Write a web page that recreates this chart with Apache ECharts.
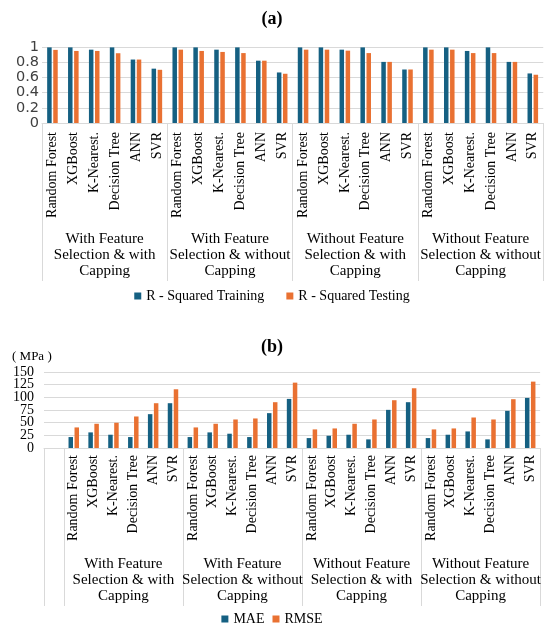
<!DOCTYPE html>
<html>
<head>
<meta charset="utf-8">
<script src="https://cdn.jsdelivr.net/npm/echarts@6/dist/echarts.min.js"></script>
<style>
html, body { margin: 0; padding: 0; background: #fff; }
#main { width: 544px; height: 629px; }
</style>
</head>
<body>
<div id="main"></div>
<script>
const models = ["Random Forest", "XGBoost", "K-Nearest Neighbors", "Decision Tree", "ANN", "SVR"];
const groups = [
	"With Feature\nSelection & with\nCapping",
	"With Feature\nSelection & without\nCapping",
	"Without Feature\nSelection & with\nCapping",
	"Without Feature\nSelection & without\nCapping",
];

// (a) R-squared, 6 models x 4 groups
const r2Training = [0.995, 0.995, 0.965, 0.995, 0.835, 0.715, 0.995, 0.995, 0.965, 0.995, 0.82, 0.665, 0.995, 0.995, 0.965, 0.995, 0.804, 0.704, 0.995, 0.995, 0.948, 0.995, 0.804, 0.652];
const r2Testing = [0.962, 0.948, 0.948, 0.918, 0.835, 0.70, 0.965, 0.948, 0.935, 0.92, 0.82, 0.648, 0.965, 0.965, 0.952, 0.92, 0.804, 0.704, 0.965, 0.965, 0.92, 0.92, 0.804, 0.635];

// (b) errors in MPa
const mae = [21.6, 30.8, 26.2, 21.6, 66.8, 88.4, 21.6, 30.8, 28.2, 21.6, 68.8, 96.9, 19.6, 24.2, 26.2, 17, 75.3, 90.4, 19.6, 26.2, 32.7, 17, 73.3, 98.9];
const rmse = [40.6, 47.8, 49.8, 62.2, 88.4, 115.9, 40.6, 47.8, 56.3, 58.3, 90.4, 129, 36.7, 38.6, 47.8, 56.3, 94.3, 117.9, 36.7, 38.6, 60.2, 56.3, 96.3, 131];
// y labels of (b) split over two axes so none get hidden as overlapping
const mpaLabelsEven = [0, 50, 100, 150];
const mpaLabelsOdd = [25, 75, 125];

const topTicks = [0, 6, 12, 18, 24];
const topLabelPos = [3, 9, 15, 21];
const botTicks = [0, 1, 7, 13, 19, 25];
const botLabelPos = [4, 10, 16, 22];

const BLUE = "#156082";
const ORANGE = "#E97132";
const SERIF = "Liberation Serif";
const GRID_COLOR = "#d9d9d9";

const cats = groups.flatMap(() => models);
const catsB = [""].concat(cats);

const shortName = (v) => (v.length > 14 ? v.split(" ")[0] + "." : v);

function modelAxis(gridIndex, data, margin) {
	return {
		type: "category",
		gridIndex: gridIndex,
		data: data,
		axisTick: { show: false },
		axisLine: { lineStyle: { color: GRID_COLOR } },
		axisLabel: {
			interval: 0,
			rotate: 90,
			margin: margin,
			fontFamily: SERIF,
			fontSize: 14,
			color: "#000",
			formatter: shortName,
		},
	};
}

function groupAxis(gridIndex, max, ticks, labelPos, offsetIdx) {
	return {
		type: "value",
		gridIndex: gridIndex,
		position: "bottom",
		min: 0,
		max: max,
		axisLine: { show: false },
		splitLine: { show: false },
		axisTick: {
			show: true,
			length: 158,
			customValues: ticks,
			lineStyle: { color: GRID_COLOR },
		},
		axisLabel: {
			customValues: labelPos,
			formatter: (v) => groups[(v - offsetIdx) / 6],
			margin: 108,
			lineHeight: 16,
			fontFamily: SERIF,
			fontSize: 15,
			color: "#000",
		},
	};
}

function mpaAxis(labels, showSplit) {
	return {
		type: "value",
		gridIndex: 1,
		position: "left",
		min: 0,
		max: 150,
		interval: 25,
		axisLine: { show: false },
		axisTick: { show: false },
		splitLine: { show: showSplit, lineStyle: { color: GRID_COLOR } },
		axisLabel: { customValues: labels, showMinLabel: true, showMaxLabel: true, fontFamily: SERIF, fontSize: 14, color: "#000", margin: 10 },
	};
}

const chart = echarts.init(document.getElementById("main"), null, { renderer: "canvas" });

const option = {
	animation: false,
	title: [
		{ text: "(a)", left: "center", top: 5, textStyle: { fontFamily: SERIF, fontSize: 18, fontWeight: "bold", color: "#000" } },
		{ text: "(b)", left: "center", top: 333, textStyle: { fontFamily: SERIF, fontSize: 18, fontWeight: "bold", color: "#000" } },
		{ text: "( MPa )", left: 7, top: 345, textStyle: { fontFamily: SERIF, fontSize: 13, fontWeight: "normal", color: "#000" } },
	],
	legend: [
		{
			data: ["R - Squared Training", "R - Squared Testing"],
			top: 284,
			left: "center",
			icon: "rect",
			itemWidth: 7,
			itemHeight: 7,
			itemGap: 22,
			textStyle: { fontFamily: SERIF, fontSize: 14, color: "#000" },
		},
		{
			data: ["MAE", "RMSE"],
			top: 607,
			left: "center",
			icon: "rect",
			itemWidth: 7,
			itemHeight: 7,
			itemGap: 8,
			textStyle: { fontFamily: SERIF, fontSize: 14, color: "#000" },
		},
	],
	grid: [
		{ left: 42, right: 0, top: 47, height: 76 },
		{ left: 44, right: 0, top: 372, height: 76 },
	],
	xAxis: [
		modelAxis(0, cats, 9),
		groupAxis(0, 24, topTicks, topLabelPos, 3),
		modelAxis(1, catsB, 7),
		groupAxis(1, 25, botTicks, botLabelPos, 4),
	],
	yAxis: [
		{
			type: "value",
			gridIndex: 0,
			min: 0,
			max: 1,
			interval: 0.2,
			axisLine: { show: false },
			axisTick: { show: false },
			splitLine: { lineStyle: { color: GRID_COLOR } },
			axisLabel: { fontFamily: "DejaVu Sans", fontSize: 14.5, color: "#404040", margin: 3 },
		},
		mpaAxis(mpaLabelsEven, true),
		mpaAxis(mpaLabelsOdd, false),
	],
	series: [
		{ name: "R - Squared Training", type: "bar", xAxisIndex: 0, yAxisIndex: 0, data: r2Training, barWidth: 4.5, barGap: "35%", itemStyle: { color: BLUE } },
		{ name: "R - Squared Testing", type: "bar", xAxisIndex: 0, yAxisIndex: 0, data: r2Testing, barWidth: 4.5, barGap: "35%", itemStyle: { color: ORANGE } },
		{ name: "MAE", type: "bar", xAxisIndex: 2, yAxisIndex: 1, data: [null].concat(mae), barWidth: 4.5, barGap: "33%", itemStyle: { color: BLUE } },
		{ name: "RMSE", type: "bar", xAxisIndex: 2, yAxisIndex: 1, data: [null].concat(rmse), barWidth: 4.5, barGap: "33%", itemStyle: { color: ORANGE } },
	],
};

chart.setOption(option);
</script>
</body>
</html>
